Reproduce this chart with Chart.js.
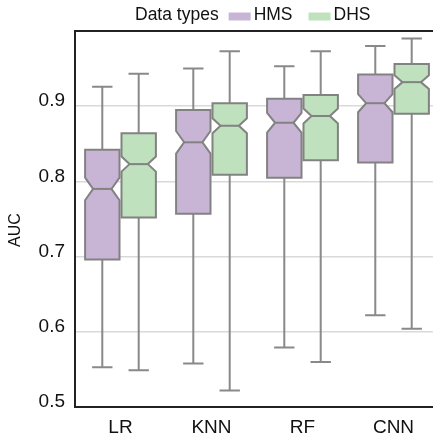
<!DOCTYPE html>
<html>
<head>
<meta charset="utf-8">
<script src="https://cdn.jsdelivr.net/npm/chart.js@4/dist/chart.umd.min.js"></script>
<style>
html,body{margin:0;padding:0;background:#fff;overflow:hidden;}
#wrap{width:433px;height:440px;overflow:hidden;position:relative;}
canvas{display:block;}
</style>
</head>
<body>
<div id="wrap"><canvas id="c" width="440" height="440" style="width:440px;height:440px"></canvas></div>
<script>
const categories = ['LR', 'KNN', 'RF', 'CNN'];
const seriesNames = ['HMS', 'DHS'];
const legendTitle = 'Data types';
const yTitle = 'AUC';
const yTicks = [0.5, 0.6, 0.7, 0.8, 0.9, 1.0];

const hmsLow   = [0.553, 0.558, 0.579, 0.622];
const hmsQ1    = [0.696, 0.757, 0.805, 0.825];
const hmsMed   = [0.790, 0.852, 0.878, 0.904];
const hmsQ3    = [0.842, 0.895, 0.910, 0.942];
const hmsHigh  = [0.926, 0.950, 0.953, 0.980];
const hmsNotch = [0.015, 0.015, 0.013, 0.012];

const dhsLow   = [0.549, 0.522, 0.560, 0.604];
const dhsQ1    = [0.752, 0.809, 0.828, 0.890];
const dhsMed   = [0.823, 0.874, 0.887, 0.932];
const dhsQ3    = [0.864, 0.904, 0.915, 0.956];
const dhsHigh  = [0.943, 0.973, 0.973, 0.990];
const dhsNotch = [0.010, 0.010, 0.010, 0.009];

const FONT = "'Liberation Sans', Arial, Helvetica, sans-serif";
const fills = ['#c8b5d5', '#bfe1bd'];
const edge = '#828282';

function stats(low, q1, med, q3, high, notch) {
  return low.map((v, i) => ({low: v, q1: q1[i], med: med[i], q3: q3[i], high: high[i], notch: notch[i]}));
}
const boxStats = [
  stats(hmsLow, hmsQ1, hmsMed, hmsQ3, hmsHigh, hmsNotch),
  stats(dhsLow, dhsQ1, dhsMed, dhsQ3, dhsHigh, dhsNotch)
];

const boxPlugin = {
  id: 'boxPlugin',
  afterDatasetsDraw(chart) {
    const ctx = chart.ctx;
    const ys = chart.scales.y;
    const items = [];
    chart.data.datasets.forEach((ds, di) => {
      const meta = chart.getDatasetMeta(di);
      meta.data.forEach((el, i) => {
        items.push({x: el.x, w: el.width, s: boxStats[di][i], fill: fills[di]});
      });
    });
    ctx.save();
    // whiskers
    ctx.strokeStyle = '#898989';
    ctx.lineWidth = 2;
    items.forEach(it => {
      const cap = it.w * 0.56;
      const yl = ys.getPixelForValue(it.s.low), yh = ys.getPixelForValue(it.s.high);
      const y1 = ys.getPixelForValue(it.s.q1), y3 = ys.getPixelForValue(it.s.q3);
      ctx.beginPath();
      ctx.moveTo(it.x, yl); ctx.lineTo(it.x, y1);
      ctx.moveTo(it.x, y3); ctx.lineTo(it.x, yh);
      ctx.moveTo(it.x - cap / 2, yl); ctx.lineTo(it.x + cap / 2, yl);
      ctx.moveTo(it.x - cap / 2, yh); ctx.lineTo(it.x + cap / 2, yh);
      ctx.stroke();
    });
    // notched boxes
    items.forEach(it => {
      const l = it.x - it.w / 2 + 1, r = it.x + it.w / 2 - 1;
      const ind = it.w * 0.22;
      const y1 = ys.getPixelForValue(it.s.q1), y3 = ys.getPixelForValue(it.s.q3);
      const ym = ys.getPixelForValue(it.s.med);
      const nl = ys.getPixelForValue(it.s.med - it.s.notch);
      const nh = ys.getPixelForValue(it.s.med + it.s.notch);
      ctx.beginPath();
      ctx.moveTo(l, y1);
      ctx.lineTo(l, nl);
      ctx.lineTo(l + ind, ym);
      ctx.lineTo(l, nh);
      ctx.lineTo(l, y3);
      ctx.lineTo(r, y3);
      ctx.lineTo(r, nh);
      ctx.lineTo(r - ind, ym);
      ctx.lineTo(r, nl);
      ctx.lineTo(r, y1);
      ctx.closePath();
      ctx.fillStyle = it.fill;
      ctx.fill();
      ctx.strokeStyle = edge;
      ctx.lineWidth = 2;
      ctx.lineJoin = 'miter';
      ctx.stroke();
      ctx.beginPath();
      ctx.moveTo(l + ind, ym); ctx.lineTo(r - ind, ym);
      ctx.stroke();
    });
    ctx.restore();
  },
  afterDraw(chart) {
    const ctx = chart.ctx;
    const a = chart.chartArea;
    ctx.save();
    // frame
    ctx.strokeStyle = '#222';
    ctx.lineWidth = 2;
    ctx.strokeRect(a.left, a.top, a.right - a.left, a.bottom - a.top);
    // y title
    ctx.fillStyle = '#111';
    ctx.font = '16px ' + FONT;
    ctx.textAlign = 'center';
    ctx.textBaseline = 'middle';
    ctx.translate(16, 230);
    ctx.rotate(-Math.PI / 2);
    ctx.fillText(yTitle, 0, 0);
    ctx.restore();
    // legend
    ctx.save();
    ctx.font = '17.5px ' + FONT;
    ctx.fillStyle = '#111';
    ctx.textBaseline = 'alphabetic';
    ctx.textAlign = 'left';
    let x = 135;
    const base = 19.5;
    ctx.fillText(legendTitle, x, base);
    x += ctx.measureText(legendTitle).width + 10;
    seriesNames.forEach((n, i) => {
      ctx.fillStyle = fills[i];
      ctx.fillRect(x, 12.5, 22, 8);
      x += 22 + 3;
      ctx.fillStyle = '#111';
      ctx.fillText(n, x, base);
      x += ctx.measureText(n).width + 16;
    });
    ctx.restore();
  }
};

new Chart(document.getElementById('c'), {
  type: 'bar',
  data: {
    labels: categories,
    datasets: seriesNames.map((n, di) => ({
      label: n,
      data: boxStats[di].map(s => [s.q1, s.q3]),
      backgroundColor: 'rgba(0,0,0,0)',
      borderWidth: 0,
      categoryPercentage: 0.8,
      barPercentage: 1.0
    }))
  },
  options: {
    responsive: false,
    animation: false,
    layout: {padding: {top: 31, right: 1, left: 0, bottom: 0}},
    plugins: {legend: {display: false}, tooltip: {enabled: false}},
    scales: {
      x: {
        grid: {display: false, drawTicks: false},
        border: {display: false},
        ticks: {font: {family: FONT, size: 19}, color: '#111', padding: 9},
        afterFit: s => { s.height = 33; }
      },
      y: {
        min: yTicks[0],
        max: yTicks[yTicks.length - 1],
        afterBuildTicks: s => { s.ticks = yTicks.map(v => ({value: v})); },
        grid: {
          drawTicks: false,
          lineWidth: 1.5,
          color: c => (c.tick && (c.tick.value <= yTicks[0] + 1e-9 || c.tick.value >= yTicks[yTicks.length - 1] - 1e-9)) ? 'rgba(0,0,0,0)' : '#d9d9d9'
        },
        border: {display: false},
        ticks: {
          font: {family: FONT, size: 19},
          color: '#111',
          padding: 10,
          labelOffset: -5,
          callback: v => (v >= yTicks[yTicks.length - 1] - 1e-9) ? '' : v.toFixed(1)
        },
        afterFit: s => { s.width = 75; }
      }
    }
  },
  plugins: [boxPlugin]
});
</script>
</body>
</html>
